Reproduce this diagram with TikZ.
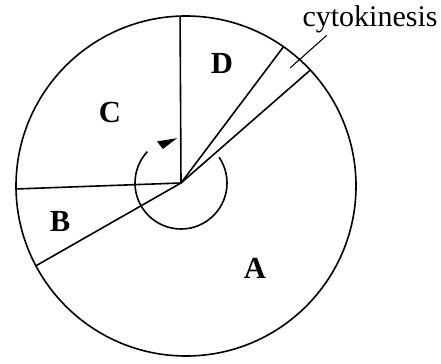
\documentclass[tikz,border=0pt]{standalone}
\usepackage{fontspec}
\setmainfont{Liberation Serif}
\usetikzlibrary{arrows.meta, positioning, calc}

\begin{document}
\begin{tikzpicture}[x=0.75pt, y=0.75pt, line width=1.2pt,
    phase/.style={font=\fontsize{23}{27}\selectfont\bfseries, inner sep=0pt},
    every node/.style={inner sep=0pt}]
    \useasboundingbox (0,0) rectangle (441,363);
    \coordinate (O) at (186,177);
    \coordinate (hub) at (181,180);
    % cycle outline and phase boundaries
    \draw (O) circle[radius=170];
    \coordinate (top) at ($(O)+(92:170)$);
    \coordinate (left) at ($(O)+(181:170)$);
    \coordinate (low) at ($(O)+(208:170)$);
    \coordinate (ck1) at ($(O)+(55:170)$);
    \coordinate (ck2) at ($(O)+(43:170)$);
    \draw (hub) -- (top);
    \draw (hub) -- (left);
    \draw (hub) -- (low);
    \draw (hub) -- (ck1);
    \draw (hub) -- (ck2);
    % direction of the cycle
    \draw (hub) ++(34:46) arc[start angle=34, end angle=-223, radius=46];
    \fill ($(hub)+(95:45)$) -- ($(hub)+(120:48)$) -- ($(hub)+(118:38.5)$) -- cycle;
    % labels
    \node[phase] (A) at (255,95) {A};
    \node[phase] (B) at (60,141) {B};
    \node[phase] (C) at (110,250) {C};
    \node[phase] (D) at (222,300) {D};
    \node[font=\fontsize{22.5}{27}\selectfont] (cyto) at (370,344) {cytokinesis};
    \coordinate (lead) at (290,295);
    \draw[line width=0.8pt] ($(cyto.south west)+(25,-2)$) -- (lead);
\end{tikzpicture}
\end{document}
